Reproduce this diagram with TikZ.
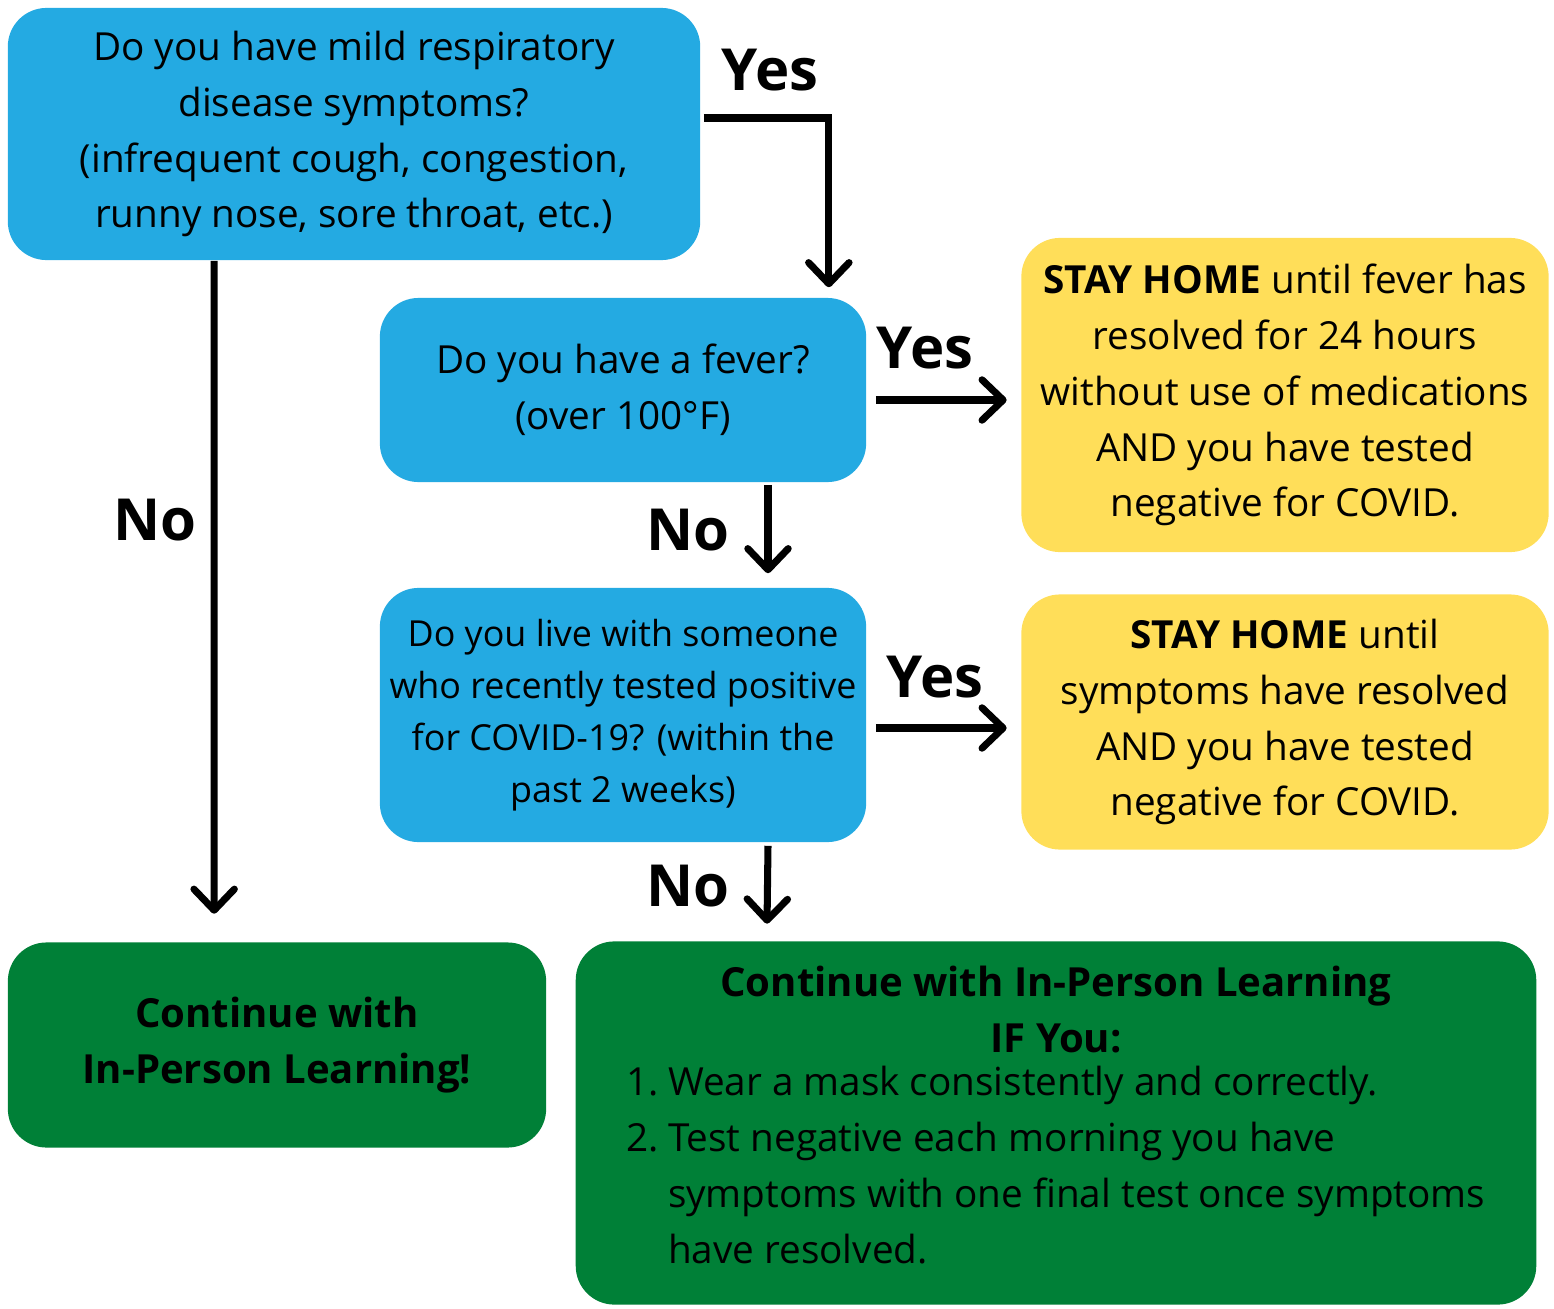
\documentclass[tikz,border=0pt]{standalone}
\usepackage{fontspec}
\setmainfont{Open Sans}
\usetikzlibrary{arrows.meta,calc}
\definecolor{qblue}{RGB}{36,170,226}
\definecolor{stayyellow}{RGB}{255,222,89}
\definecolor{gogreen}{RGB}{0,128,55}
\tikzset{
  box/.style={rounded corners=11pt,inner sep=0pt,align=center,font=\fontsize{11}{15.9}\selectfont},
  question/.style={box,fill=qblue},
  stayhome/.style={box,fill=stayyellow},
  goahead/.style={box,fill=gogreen},
  arr/.style={line width=2pt,-{Straight Barb[length=6pt,width=11.5pt,line cap=round,line join=round]}},
  answer/.style={font=\fontsize{16.5}{18}\selectfont\bfseries}
}
\begin{document}
\begin{tikzpicture}[x=0.01cm,y=-0.01cm]
\useasboundingbox (0,0) rectangle (1554,1309);
\node[question,minimum width=6.92cm,minimum height=2.52cm] (q1) at (354,134)
  {Do you have mild respiratory\\disease symptoms?\\(infrequent cough, congestion,\\runny nose, sore throat, etc.)};
\node[question,minimum width=4.86cm,minimum height=1.84cm] (q2) at (623,390)
  {Do you have a fever?\\(over 100°F)};
\node[question,minimum width=4.86cm,minimum height=2.54cm,font=\fontsize{10.2}{14.8}\selectfont] (q3) at (623,715)
  {Do you live with someone\\who recently tested positive\\for COVID-19? (within the\\past 2 weeks)};
\node[stayhome,minimum width=5.27cm,minimum height=3.14cm] (s1) at (1285,395)
  {\textbf{STAY HOME} until fever has\\resolved for 24 hours\\without use of medications\\AND you have tested\\negative for COVID.};
\node[stayhome,minimum width=5.27cm,minimum height=2.55cm] (s2) at (1285,722)
  {\textbf{STAY HOME} until\\symptoms have resolved\\AND you have tested\\negative for COVID.};
\node[goahead,minimum width=5.38cm,minimum height=2.05cm,font=\fontsize{11.4}{15.9}\selectfont\bfseries] (g1) at (277,1045)
  {Continue with\\In-Person Learning!};
\node[goahead,minimum width=9.6cm,minimum height=3.63cm,font=\fontsize{11.4}{15.9}\selectfont\bfseries] (g2) at (1056,1123)
  {Continue with In-Person Learning\\IF You:\\
   \fontsize{11}{15.9}\selectfont\mdseries
   \begin{tabular}{@{}l@{\hspace{2.5pt}}l@{}}
   1. & Wear a mask consistently and correctly.\\
   2. & Test negative each morning you have\\
      & symptoms with one final test once symptoms\\
      & have resolved.
   \end{tabular}};
\draw[arr] ($(q1.east)+(3,-16)$) -| ($(q2.north east)+(-38,-10)$);
\draw[arr] ($(q1.south west)+(207,0)$) -- ($(g1.north west)+(207,-28)$);
\draw[arr] ($(q2.east)+(9,10)$) -- ($(s1.west)+(-14,5)$);
\draw[arr] ($(q2.south)+(145,2)$) -- ($(q3.north)+(145,-14)$);
\draw[arr] ($(q3.east)+(9,13)$) -- ($(s2.west)+(-14,6)$);
\draw[arr] ($(q3.south)+(145,3)$) -- ($(g2.north west)+(192,-17)$);
\node[answer] (yes1) at (770,70) {Yes};
\node[answer] (yes2) at (925,348) {Yes};
\node[answer] (yes3) at (935,677) {Yes};
\node[answer] (no1) at (155,520) {No};
\node[answer] (no2) at (688,530) {No};
\node[answer] (no3) at (688,886) {No};
\end{tikzpicture}
\end{document}
